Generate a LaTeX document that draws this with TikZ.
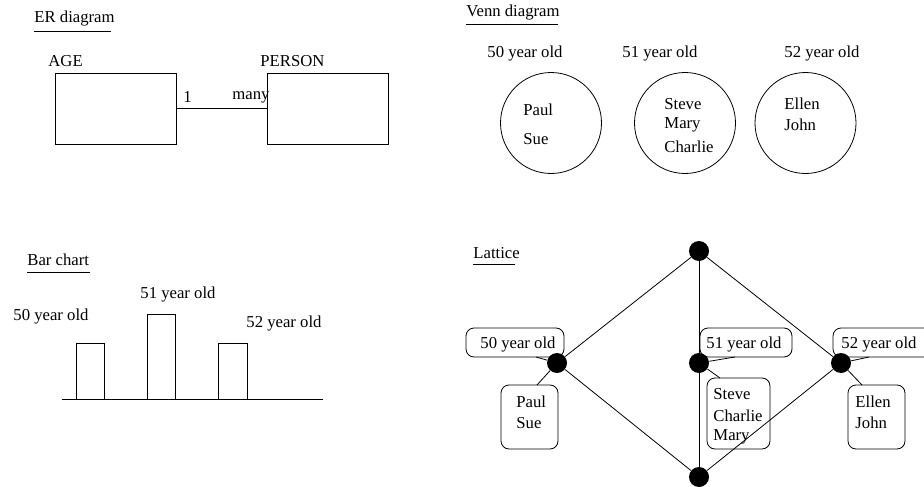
\documentclass[tikz,border=0pt]{standalone}
\usepackage{fontspec}
\setmainfont{Liberation Serif}
\begin{document}
\begin{tikzpicture}[x=1pt,y=-1pt,line width=0.8pt,
  every node/.style={font=\fontsize{16.7}{20}\selectfont},
  txt/.style={inner sep=0pt, anchor=west},
  ctxt/.style={inner sep=0pt},
  ebox/.style={draw, inner sep=0pt, minimum width=121pt, minimum height=71pt},
  rbox/.style={draw, rounded corners=8pt, inner sep=0pt},
  dot/.style={circle, fill=black, inner sep=0pt, minimum size=20pt},
  venn/.style={draw, circle, inner sep=0pt, minimum size=101pt}]
\useasboundingbox (0,0) rectangle (924,487);

% ---------- ER diagram ----------
\node[txt] (ertitle) at (34,19) {ER diagram};
\draw (34,31) -- (111,31);
\node[txt] (agel) at (48,61) {AGE};
\node[txt] (personl) at (260,61) {PERSON};
\node[ebox] (age) at (115.5,108.5) {};
\node[ebox] (person) at (327.5,108.5) {};
\draw (age.east) -- (person.west);
\node[txt] (one) at (183,97) {1};
\node[txt] (many) at (232,97) {many};

% ---------- Venn diagram ----------
\node[txt] (venntitle) at (466,13) {Venn diagram};
\draw (466,24) -- (558,24);
\node[txt] (v50) at (487,54) {50 year old};
\node[txt] (v51) at (622,54) {51 year old};
\node[txt] (v52) at (784,54) {52 year old};
\node[venn] (c1) at (551,123) {};
\node[venn] (c2) at (685,123) {};
\node[venn] (c3) at (805.5,123) {};
\node[txt] (paul1) at (523,110) {Paul};
\node[txt] (sue1) at (523,139) {Sue};
\node[txt] (steve1) at (664,104) {Steve};
\node[txt] (mary1) at (664,125) {Mary};
\node[txt] (charlie1) at (664,147) {Charlie};
\node[txt] (ellen1) at (784,104) {Ellen};
\node[txt] (john1) at (784,125) {John};

% ---------- Bar chart ----------
\node[txt] (bartitle) at (27,260) {Bar chart};
\draw (27,272) -- (90,272);
\node[txt] (b51) at (140,295) {51 year old};
\node[txt] (b50) at (13,317) {50 year old};
\node[txt] (b52) at (246,324) {52 year old};
\draw (62,399) -- (323,399);
\draw (76,399) rectangle (104,343);
\draw (147,399) rectangle (175,314);
\draw (218,399) rectangle (247,343);

% ---------- Lattice ----------
\node[txt] (lattitle) at (473,253) {Lattice};
\draw (473,264) -- (515,264);

% boxes
\draw[rbox] (466,328) rectangle (564,357);
\node[txt] (l50) at (480,345) {50 year old};
\draw[rbox] (700,328) rectangle (792,357);
\node[txt] (l51) at (706,345) {51 year old};
\draw[rbox] (833,328) rectangle (940,357);
\node[txt] (l52) at (841,345) {52 year old};

\draw[rbox] (501,385) rectangle (558,449);
\node[txt] (paul2) at (516,402) {Paul};
\node[txt] (sue2) at (516,423) {Sue};
\draw[rbox] (707,378) rectangle (770,449);
\node[txt] (steve2) at (713,394) {Steve};
\node[txt] (charlie2) at (713,416) {Charlie};
\node[txt] (mary2) at (713,437) {Mary};
\draw[rbox] (848,385) rectangle (905,449);
\node[txt] (ellen2) at (855,402) {Ellen};
\node[txt] (john2) at (855,423) {John};

% dots
\node[dot] (top) at (699,251) {};
\node[dot] (bot) at (699,477) {};
\node[dot] (lft) at (557,363) {};
\node[dot] (mid) at (699,363) {};
\node[dot] (rgt) at (841,363) {};

\draw (top) -- (lft);
\draw (top) -- (mid);
\draw (top) -- (rgt);
\draw (lft) -- (bot);
\draw (mid) -- (bot);
\draw (rgt) -- (bot);

\coordinate (a50) at (536,357);
\coordinate (a51) at (735,357);
\coordinate (a52) at (869,357);
\coordinate (n1) at (537,385);
\coordinate (n2) at (720,378);
\coordinate (n3) at (862,385);
\draw (a50) -- (lft);
\draw (a51) -- (mid);
\draw (a52) -- (rgt);
\draw (n1) -- (lft);
\draw (n2) -- (mid);
\draw (n3) -- (rgt);
\end{tikzpicture}
\end{document}
